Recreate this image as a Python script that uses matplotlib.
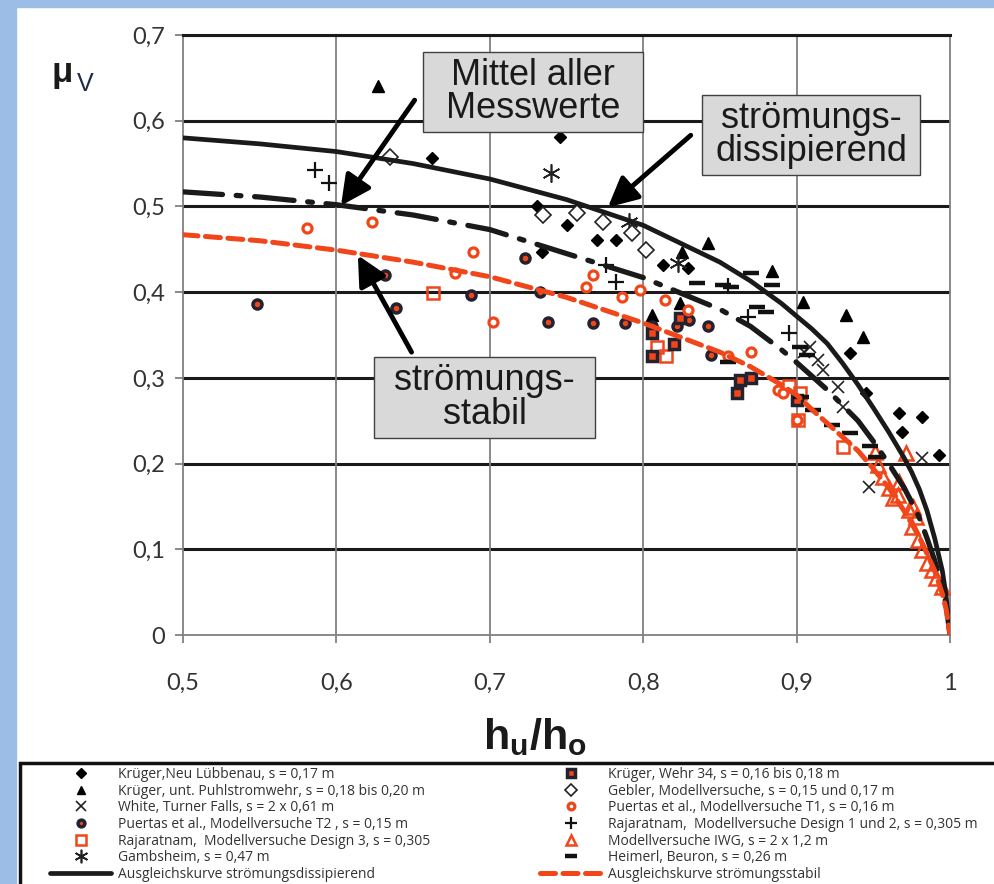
"""
Abflussbeiwert mu_V ueber h_u/h_o fuer Schlitzpaesse, mit Ausgleichskurven
"""
import matplotlib
matplotlib.use('Agg')
import matplotlib.pyplot as plt
from matplotlib.patches import Rectangle

RED = '#f0461a'
DARK = '#222230'

# Ausgleichskurven
curve_x = [0.5, 0.55, 0.6, 0.65, 0.7, 0.75, 0.8, 0.85, 0.87, 0.89, 0.9, 0.91, 0.92,
           0.93, 0.94, 0.95, 0.96, 0.97, 0.975, 0.98, 0.985, 0.99, 0.995, 0.9975, 1.0]
diss_y = [0.58, 0.573, 0.564, 0.55, 0.532, 0.508, 0.478, 0.435, 0.413, 0.387, 0.372,
          0.357, 0.34, 0.317, 0.292, 0.265, 0.237, 0.207, 0.19, 0.17, 0.145, 0.113,
          0.075, 0.045, 0.0]
mittel_y = [0.517, 0.511, 0.502, 0.49, 0.473, 0.445, 0.417, 0.38, 0.36, 0.333, 0.318,
            0.302, 0.286, 0.268, 0.25, 0.226, 0.2, 0.172, 0.155, 0.137, 0.113, 0.087,
            0.057, 0.035, 0.0]
stabil_y = [0.467, 0.46, 0.449, 0.435, 0.418, 0.394, 0.364, 0.33, 0.313, 0.292, 0.28,
            0.263, 0.247, 0.231, 0.215, 0.194, 0.172, 0.145, 0.13, 0.114, 0.095, 0.075,
            0.048, 0.03, 0.0]

# Messwerte
luebbenau_x = [0.662, 0.746, 0.731, 0.750, 0.770, 0.782, 0.734, 0.813, 0.829, 0.935,
               0.945, 0.967, 0.982, 0.969, 0.993]
luebbenau_y = [0.557, 0.581, 0.500, 0.478, 0.461, 0.461, 0.447, 0.432, 0.428, 0.329,
               0.282, 0.259, 0.254, 0.237, 0.210]
puhl_x = [0.627, 0.842, 0.825, 0.884, 0.824, 0.806, 0.904, 0.932, 0.943]
puhl_y = [0.641, 0.457, 0.447, 0.425, 0.387, 0.373, 0.388, 0.373, 0.348]
white_x = [0.909, 0.914, 0.917, 0.927, 0.930, 0.947, 0.982, 0.905]
white_y = [0.336, 0.321, 0.309, 0.289, 0.266, 0.173, 0.206, 0.33]
t2_x = [0.548, 0.639, 0.688, 0.733, 0.738, 0.767, 0.788, 0.806, 0.822, 0.830, 0.844,
        0.842, 0.632, 0.723]
t2_y = [0.386, 0.381, 0.397, 0.400, 0.365, 0.364, 0.364, 0.36, 0.36, 0.368, 0.327,
        0.36, 0.42, 0.44]
d3_x = [0.663, 0.809, 0.815, 0.901, 0.930, 0.902, 0.895]
d3_y = [0.399, 0.336, 0.325, 0.251, 0.219, 0.282, 0.29]
gamb_x = [0.740, 0.791, 0.823]
gamb_y = [0.539, 0.482, 0.434]
wehr_x = [0.806, 0.806, 0.824, 0.861, 0.863, 0.870, 0.900, 0.82]
wehr_y = [0.325, 0.352, 0.37, 0.282, 0.298, 0.30, 0.274, 0.34]
gebler_x = [0.635, 0.735, 0.757, 0.774, 0.793, 0.802]
gebler_y = [0.558, 0.49, 0.492, 0.482, 0.469, 0.449]
t1_x = [0.581, 0.623, 0.689, 0.677, 0.702, 0.767, 0.763, 0.786, 0.798, 0.814, 0.829,
        0.855, 0.870, 0.888, 0.900, 0.891]
t1_y = [0.475, 0.482, 0.447, 0.422, 0.365, 0.42, 0.406, 0.394, 0.403, 0.391, 0.379,
        0.325, 0.33, 0.286, 0.251, 0.282]
d12_x = [0.586, 0.595, 0.776, 0.782, 0.855, 0.868, 0.895]
d12_y = [0.543, 0.527, 0.432, 0.412, 0.407, 0.371, 0.352]
iwg_x = [0.951, 0.953, 0.956, 0.960, 0.963, 0.966, 0.967, 0.971, 0.973, 0.976, 0.978,
         0.975, 0.979, 0.982, 0.985, 0.988, 0.991, 0.995]
iwg_y = [0.214, 0.198, 0.184, 0.172, 0.160, 0.163, 0.179, 0.212, 0.146, 0.149, 0.138,
         0.126, 0.111, 0.099, 0.084, 0.076, 0.066, 0.056]
heim_x = [0.835, 0.852, 0.857, 0.870, 0.884, 0.874, 0.880, 0.855, 0.902, 0.907, 0.903,
          0.911, 0.923, 0.935, 0.948, 0.952]
heim_y = [0.411, 0.408, 0.406, 0.422, 0.408, 0.383, 0.377, 0.318, 0.336, 0.327, 0.278,
          0.263, 0.245, 0.236, 0.220, 0.208]

x_ticks = [0.5, 0.6, 0.7, 0.8, 0.9, 1.0]
x_labels = ['0,5', '0,6', '0,7', '0,8', '0,9', '1']
y_ticks = [0, 0.1, 0.2, 0.3, 0.4, 0.5, 0.6, 0.7]
y_labels = ['0', '0,1', '0,2', '0,3', '0,4', '0,5', '0,6', '0,7']

# Beschriftungskaesten: text, (x0, x1, y0, y1) in data units
boxes = [('Mittel aller\nMesswerte', (0.6565, 0.800, 0.587, 0.680)),
         ('strömungs-\ndissipierend', (0.8383, 0.9804, 0.537, 0.630)),
         ('strömungs-\nstabil', (0.6245, 0.7686, 0.230, 0.3244))]
# Pfeile: (spitze, ende)
arrows = [((0.603, 0.501), (0.651, 0.624)),
          ((0.777, 0.499), (0.831, 0.583)),
          ((0.614, 0.443), (0.649, 0.330))]


def main():
    plt.rcParams['mathtext.fontset'] = 'custom'
    plt.rcParams['mathtext.bf'] = 'Liberation Sans:bold'
    plt.rcParams['mathtext.rm'] = 'Liberation Sans'

    fig = plt.figure(figsize=(9.94, 8.84), dpi=100)
    W, H = 994, 884

    # blue slide frame
    fig.patches.append(Rectangle((0, 0), 16 / W, 1, transform=fig.transFigure,
                                 color='#9cbde6', zorder=0))
    fig.patches.append(Rectangle((0, 1 - 7 / H), 1, 7 / H, transform=fig.transFigure,
                                 color='#9cbde6', zorder=0))

    ax = fig.add_axes([183 / W, 1 - 635 / H, (950 - 183) / W, (635 - 35) / H])
    ax.set_xlim(0.5, 1.0)
    ax.set_ylim(0, 0.7)

    # grid: thick black horizontals, thin grey verticals
    for y in y_ticks[1:]:
        ax.axhline(y, color='#1a1a1a', lw=2.2, zorder=1)
    for x in x_ticks[1:-1]:
        ax.axvline(x, color='#808080', lw=1.3, zorder=1)
    for side in ['left', 'right', 'bottom']:
        ax.spines[side].set_color('#808080')
        ax.spines[side].set_linewidth(1.3)
    ax.spines['top'].set_color('#1a1a1a')
    ax.spines['top'].set_linewidth(2.2)

    ax.set_xticks(x_ticks)
    ax.set_xticklabels(x_labels, fontfamily='Lato', fontsize=17, color='#333333')
    ax.set_yticks(y_ticks)
    ax.set_yticklabels(y_labels, fontfamily='Lato', fontsize=17, color='#333333')
    ax.tick_params(axis='x', length=6, width=1.3, color='#808080', pad=21)
    ax.tick_params(axis='y', length=6, width=1.3, color='#808080', pad=7)

    # Messwerte
    h = []
    h.append(ax.plot(luebbenau_x, luebbenau_y, 'D', color='k', ms=6.5, zorder=3,
                     label='Krüger,Neu Lübbenau, s = 0,17 m')[0])
    h.append(ax.plot(puhl_x, puhl_y, '^', color='k', ms=8, zorder=3,
                     label='Krüger, unt. Puhlstromwehr, s = 0,18 bis 0,20 m')[0])
    h.append(ax.plot(white_x, white_y, 'x', color='#222222', ms=9, mew=1.2, zorder=3,
                     label='White, Turner Falls, s = 2 x 0,61 m')[0])
    h.append(ax.plot(t2_x, t2_y, 'o', mfc=RED, mec=DARK, ms=6.5, mew=2.5, zorder=3,
                     label='Puertas et al., Modellversuche T2 , s = 0,15 m')[0])
    h.append(ax.plot(d3_x, d3_y, 's', mfc='none', mec=RED, ms=9, mew=1.8, zorder=3,
                     label='Rajaratnam,  Modellversuche Design 3, s = 0,305')[0])
    h.append(ax.plot(gamb_x, gamb_y, marker=(6, 2, 0), ls='none', color='#222222',
                     ms=13, mew=1.2, zorder=3, label='Gambsheim, s = 0,47 m')[0])

    # Ausgleichskurven
    h.append(ax.plot(curve_x, diss_y, '-', color='#1a1a1a', lw=3.4, zorder=4,
                     solid_capstyle='round', solid_joinstyle='round',
                     label='Ausgleichskurve strömungsdissipierend')[0])
    ax.plot(curve_x, mittel_y, color='#1a1a1a', lw=3.8, zorder=4,
            dashes=(7.5, 2.6, 0.9, 2.6), dash_capstyle='round')
    stab, = ax.plot(curve_x, stabil_y, color=RED, lw=3.6, zorder=4,
                    dashes=(3.0, 1.5), dash_capstyle='round',
                    label='Ausgleichskurve strömungsstabil')

    h.append(ax.plot(wehr_x, wehr_y, 's', mfc=RED, mec=DARK, ms=7, mew=2.5, zorder=3,
                     label='Krüger, Wehr 34, s = 0,16 bis 0,18 m')[0])
    h.append(ax.plot(gebler_x, gebler_y, 'D', mfc='white', mec='#222222', ms=8,
                     mew=1.2, zorder=3,
                     label='Gebler, Modellversuche, s = 0,15 und 0,17 m')[0])
    h.append(ax.plot(t1_x, t1_y, 'o', mfc='white', mec=RED, ms=6.5, mew=2.3, zorder=3,
                     label='Puertas et al., Modellversuche T1, s = 0,16 m')[0])
    h.append(ax.plot(d12_x, d12_y, '+', color='#111111', ms=12, mew=1.6, zorder=3,
                     label='Rajaratnam,  Modellversuche Design 1 und 2, s = 0,305 m')[0])
    h.append(ax.plot(iwg_x, iwg_y, '^', mfc='none', mec=RED, ms=10, mew=1.8, zorder=3,
                     label='Modellversuche IWG, s = 2 x 1,2 m')[0])
    h.append(ax.plot(heim_x, heim_y, '_', color='#111111', ms=12, mew=3.2, zorder=3,
                     label='Heimerl, Beuron, s = 0,26 m')[0])
    h.append(stab)

    # Annotation boxes with arrows
    for label, (x0, x1, y0, y1) in boxes:
        ax.add_patch(Rectangle((x0, y0), x1 - x0, y1 - y0, fc='#d9d9d9', ec='#404040',
                               lw=1, zorder=6))
        ax.text((x0 + x1) / 2, (y0 + y1) / 2, label, fontfamily='Liberation Sans',
                fontsize=26, color='#1a1a1a', ha='center', va='center',
                linespacing=0.95, zorder=7)

    arrow = dict(arrowstyle='-|>,head_length=0.6,head_width=0.3', lw=3.5, color='k',
                 mutation_scale=30, shrinkA=0, shrinkB=0)
    for tip, tail in arrows:
        ax.annotate('', xy=tip, xytext=tail, arrowprops=arrow, zorder=5)

    # axis labels
    fig.text(52 / W, 1 - 82 / H, 'μ', fontfamily='Liberation Sans', fontweight='bold',
             fontsize=25, color='#1a1a1a', va='baseline')
    fig.text(77 / W, 1 - 91 / H, 'V', fontfamily='Liberation Sans', fontsize=18,
             color='#1f2a44', va='baseline')
    fig.text(535 / W, 1 - 737 / H, r'$\mathbf{h_u/h_o}$', fontsize=31,
             color='#1a1a1a', ha='center', va='center')

    # legend box
    fig.patches.append(Rectangle((20 / W, -0.05), 1.0, 0.05 + 1 - 763 / H,
                                 transform=fig.transFigure, fc='white', ec='#111111',
                                 lw=2.5, zorder=1))
    leg_kw = dict(frameon=False, handlelength=4.4, handletextpad=0.5,
                  labelspacing=0.12, borderpad=0, borderaxespad=0, loc='upper left',
                  markerscale=0.75, prop={'family': 'Open Sans', 'size': 10})
    leg1 = fig.legend(handles=h[:7], bbox_to_anchor=(50 / W, 1 - 767 / H), **leg_kw)
    leg2 = fig.legend(handles=h[7:], bbox_to_anchor=(540 / W, 1 - 767 / H), **leg_kw)
    for leg in (leg1, leg2):
        for t in leg.get_texts():
            t.set_color('#333333')

    fig.savefig('out.png', dpi=100, facecolor='white')


if __name__ == '__main__':
    main()
